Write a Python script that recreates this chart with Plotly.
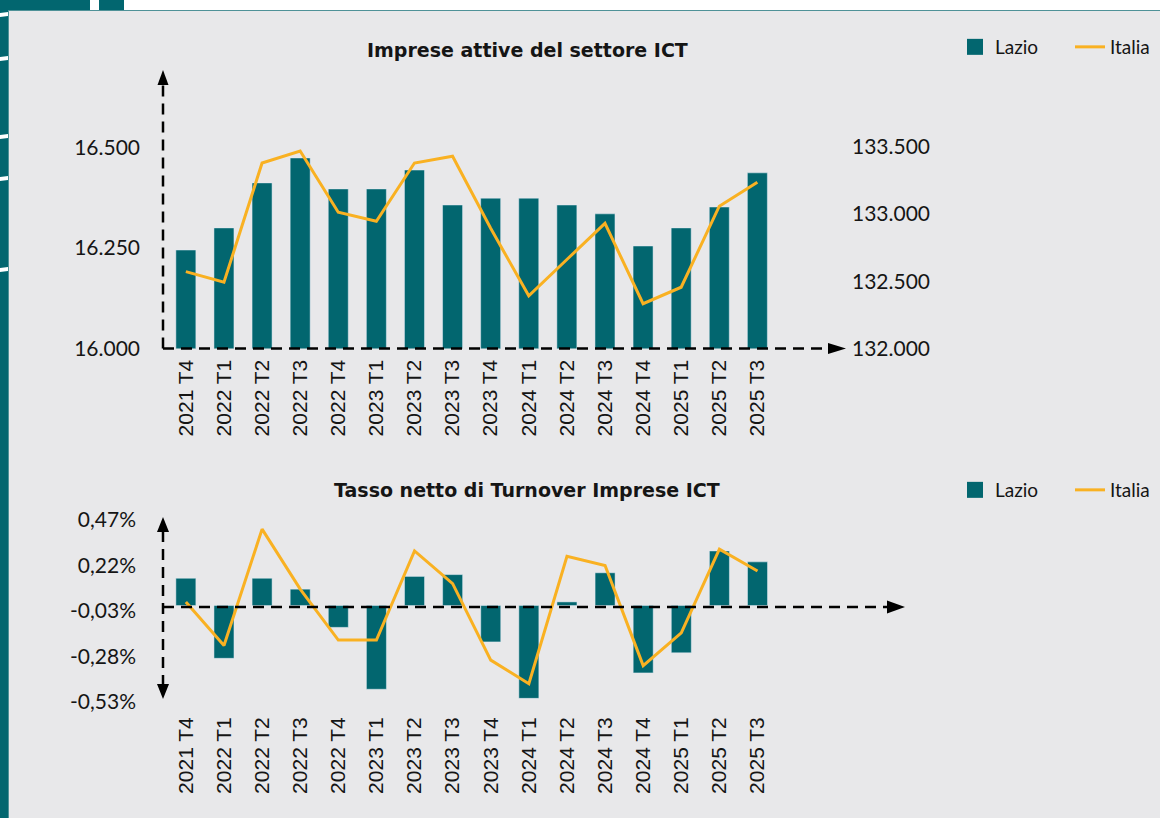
import plotly.graph_objects as go

W, H = 1160, 818

# ---------------- data ----------------
quarters = ["2021 T4", "2022 T1", "2022 T2", "2022 T3", "2022 T4", "2023 T1", "2023 T2", "2023 T3",
            "2023 T4", "2024 T1", "2024 T2", "2024 T3", "2024 T4", "2025 T1", "2025 T2", "2025 T3"]

imprese_lazio = [16245, 16300, 16412, 16474, 16397, 16397, 16444, 16357,
                 16374, 16374, 16357, 16335, 16255, 16300, 16352, 16437]
imprese_italia = [132571, 132492, 133378, 133467, 133012, 132945, 133378, 133428,
                  132893, 132392, 132661, 132930, 132333, 132455, 133057, 133235]

turnover_lazio = [0.15, -0.29, 0.15, 0.09, -0.12, -0.46, 0.16, 0.17,
                  -0.20, -0.51, 0.02, 0.18, -0.37, -0.26, 0.30, 0.24]
turnover_italia = [0.02, -0.22, 0.42, 0.09, -0.19, -0.19, 0.30, 0.12,
                   -0.30, -0.43, 0.27, 0.22, -0.33, -0.15, 0.31, 0.19]

lazio_tickvals = [16000, 16250, 16500]
lazio_ticktext = ["16.000", "16.250", "16.500"]
italia_tickvals = [132000, 132500, 133000, 133500]
italia_ticktext = ["132.000", "132.500", "133.000", "133.500"]
turnover_tickvals = [-0.53, -0.28, -0.03, 0.22, 0.47]
turnover_ticktext = ["-0,53%", "-0,28%", "-0,03%", "0,22%", "0,47%"]

title_top = "Imprese attive del settore ICT"
title_bottom = "Tasso netto di Turnover Imprese ICT"

# ---------------- style ----------------
TEAL = "#02666f"
ORANGE = "#f9b122"
BG = "#e8e8ea"
TXT = "#151515"
FONT = "Lato"
FONT_TITLE = "DejaVu Sans"
FONT_X = "Liberation Sans"


def px(x):
    return x / W


def py(y):
    return 1 - y / H


fig = go.Figure()

# top chart
fig.add_trace(go.Bar(x=quarters, y=imprese_lazio, marker_color=TEAL, name="Lazio",
                     xaxis="x", yaxis="y", showlegend=False))
fig.add_trace(go.Scatter(x=quarters, y=imprese_italia, mode="lines", name="Italia",
                         line=dict(color=ORANGE, width=3), xaxis="x", yaxis="y2", showlegend=False))
# bottom chart
fig.add_trace(go.Bar(x=quarters, y=turnover_lazio, marker_color=TEAL, name="Lazio",
                     xaxis="x2", yaxis="y3", showlegend=False))
fig.add_trace(go.Scatter(x=quarters, y=turnover_italia, mode="lines", name="Italia",
                         line=dict(color=ORANGE, width=3), xaxis="x2", yaxis="y3", showlegend=False))

# legend proxies
for lg in ["legend", "legend2"]:
    fig.add_trace(go.Scatter(x=[None], y=[None], mode="markers", name="Lazio",
                             marker=dict(symbol="square", size=16, color=TEAL),
                             legend=lg, showlegend=True, xaxis="x", yaxis="y"))
    fig.add_trace(go.Scatter(x=[None], y=[None], mode="lines", name="Italia",
                             line=dict(color=ORANGE, width=3),
                             legend=lg, showlegend=True, xaxis="x", yaxis="y"))

xcommon = dict(type="category", categoryorder="array", categoryarray=quarters,
               showgrid=False, zeroline=False, showline=False, ticks="",
               tickangle=-90, tickfont=dict(family=FONT_X, size=21, color=TXT),
               automargin=False, fixedrange=True)

legend_common = dict(orientation="h", xanchor="left", yanchor="middle",
                     font=dict(family=FONT, size=19, color=TXT), bgcolor="rgba(0,0,0,0)",
                     itemwidth=30, traceorder="normal", entrywidth=70, entrywidthmode="pixels")

fig.update_layout(
    width=W, height=H,
    margin=dict(l=0, r=0, t=0, b=0, autoexpand=False),
    paper_bgcolor=BG, plot_bgcolor="rgba(0,0,0,0)",
    bargap=0.475,
    showlegend=True,
    xaxis=dict(domain=[px(163), px(845)], range=[-0.6, 17.3], anchor="y",
               ticklabelstandoff=6, **xcommon),
    yaxis=dict(domain=[py(348.5), py(70)], range=[16000, 16692.8],
               tickvals=lazio_tickvals, ticktext=lazio_ticktext,
               showgrid=False, zeroline=False, showline=False, ticks="",
               tickfont=dict(family=FONT, size=21, color=TXT),
               ticklabelstandoff=22, automargin=False),
    yaxis2=dict(overlaying="y", side="right", anchor="x", range=[132000, 134069],
                tickvals=italia_tickvals, ticktext=italia_ticktext,
                showgrid=False, zeroline=False, showline=False, ticks="",
                tickfont=dict(family=FONT, size=21, color=TXT),
                ticklabelstandoff=6, automargin=False),
    xaxis2=dict(domain=[px(163), px(905)], range=[-0.6, 18.87], anchor="y3",
                ticklabelstandoff=10, **xcommon),
    yaxis3=dict(domain=[py(702), py(520)], range=[-0.53, 0.47], anchor="x2",
                tickvals=turnover_tickvals, ticktext=turnover_ticktext,
                showgrid=False, zeroline=False, showline=False, ticks="",
                tickfont=dict(family=FONT, size=21, color=TXT),
                ticklabelstandoff=26, automargin=False),
    legend=dict(x=px(955), y=py(47), **legend_common),
    legend2=dict(x=px(955), y=py(490), **legend_common),
)

# titles
fig.add_annotation(text="<b>" + title_top + "</b>", x=px(527), y=py(50), xref="paper", yref="paper",
                   showarrow=False, font=dict(family=FONT_TITLE, size=19, color=TXT),
                   xanchor="center", yanchor="middle")
fig.add_annotation(text="<b>" + title_bottom + "</b>", x=px(527), y=py(490), xref="paper", yref="paper",
                   showarrow=False, font=dict(family=FONT_TITLE, size=19, color=TXT),
                   xanchor="center", yanchor="middle")

shapes = []
# page decorations
shapes.append(dict(type="rect", xref="paper", yref="paper", x0=0, x1=1, y0=py(10), y1=1,
                   fillcolor="white", line_width=0, layer="below"))
shapes.append(dict(type="rect", xref="paper", yref="paper", x0=0, x1=px(90), y0=py(10), y1=1,
                   fillcolor=TEAL, line_width=0, layer="below"))
shapes.append(dict(type="rect", xref="paper", yref="paper", x0=px(99), x1=px(124), y0=py(10), y1=1,
                   fillcolor=TEAL, line_width=0, layer="below"))
shapes.append(dict(type="rect", xref="paper", yref="paper", x0=0, x1=px(8), y0=0, y1=1,
                   fillcolor=TEAL, line_width=0, layer="below"))
shapes.append(dict(type="line", xref="paper", yref="paper", x0=px(8), x1=1, y0=py(10.5), y1=py(10.5),
                   line=dict(color="#4f9298", width=1), layer="below"))
shapes.append(dict(type="line", xref="paper", yref="paper", x0=px(8.5), x1=px(8.5), y0=0, y1=py(10),
                   line=dict(color="#4f9298", width=1), layer="below"))
for ny in [13, 57, 135, 177, 268]:
    shapes.append(dict(type="path", xref="paper", yref="paper",
                       path=f"M0,{py(ny)} L{px(8)},{py(ny - 1)} L{px(8)},{py(ny + 3)} L0,{py(ny + 4)} Z",
                       fillcolor="white", line_width=0, layer="below"))

DASH_LINE = dict(color="black", width=2.5, dash="11px,7px")

# top axes
shapes.append(dict(type="line", xref="paper", yref="paper", x0=px(163), x1=px(163), y0=py(348.5), y1=py(84),
                   line=DASH_LINE))
shapes.append(dict(type="line", xref="paper", yref="paper", x0=px(163), x1=px(830), y0=py(348.5), y1=py(348.5),
                   line=DASH_LINE))
shapes.append(dict(type="path", xref="paper", yref="paper",
                   path=f"M{px(163)},{py(70)} L{px(157.5)},{py(85)} L{px(168.5)},{py(85)} Z",
                   fillcolor="black", line_width=0))
shapes.append(dict(type="path", xref="paper", yref="paper",
                   path=f"M{px(846)},{py(348.5)} L{px(828)},{py(343)} L{px(828)},{py(354)} Z",
                   fillcolor="black", line_width=0))

# bottom axes
zero_y = 607
shapes.append(dict(type="line", xref="paper", yref="paper", x0=px(163), x1=px(163), y0=py(531), y1=py(685),
                   line=DASH_LINE))
shapes.append(dict(type="line", xref="paper", yref="paper", x0=px(163), x1=px(888), y0=py(zero_y), y1=py(zero_y),
                   line=DASH_LINE))
shapes.append(dict(type="path", xref="paper", yref="paper",
                   path=f"M{px(163)},{py(517)} L{px(157)},{py(532)} L{px(169)},{py(532)} Z",
                   fillcolor="black", line_width=0))
shapes.append(dict(type="path", xref="paper", yref="paper",
                   path=f"M{px(163)},{py(699)} L{px(157)},{py(684)} L{px(169)},{py(684)} Z",
                   fillcolor="black", line_width=0))
shapes.append(dict(type="path", xref="paper", yref="paper",
                   path=f"M{px(905)},{py(zero_y)} L{px(887)},{py(zero_y - 6.5)} L{px(887)},{py(zero_y + 6.5)} Z",
                   fillcolor="black", line_width=0))

fig.update_layout(shapes=shapes)

fig.write_html("out.html", config={"displayModeBar": False},
               post_script="document.body.style.margin='0px';document.body.style.overflow='hidden';")
